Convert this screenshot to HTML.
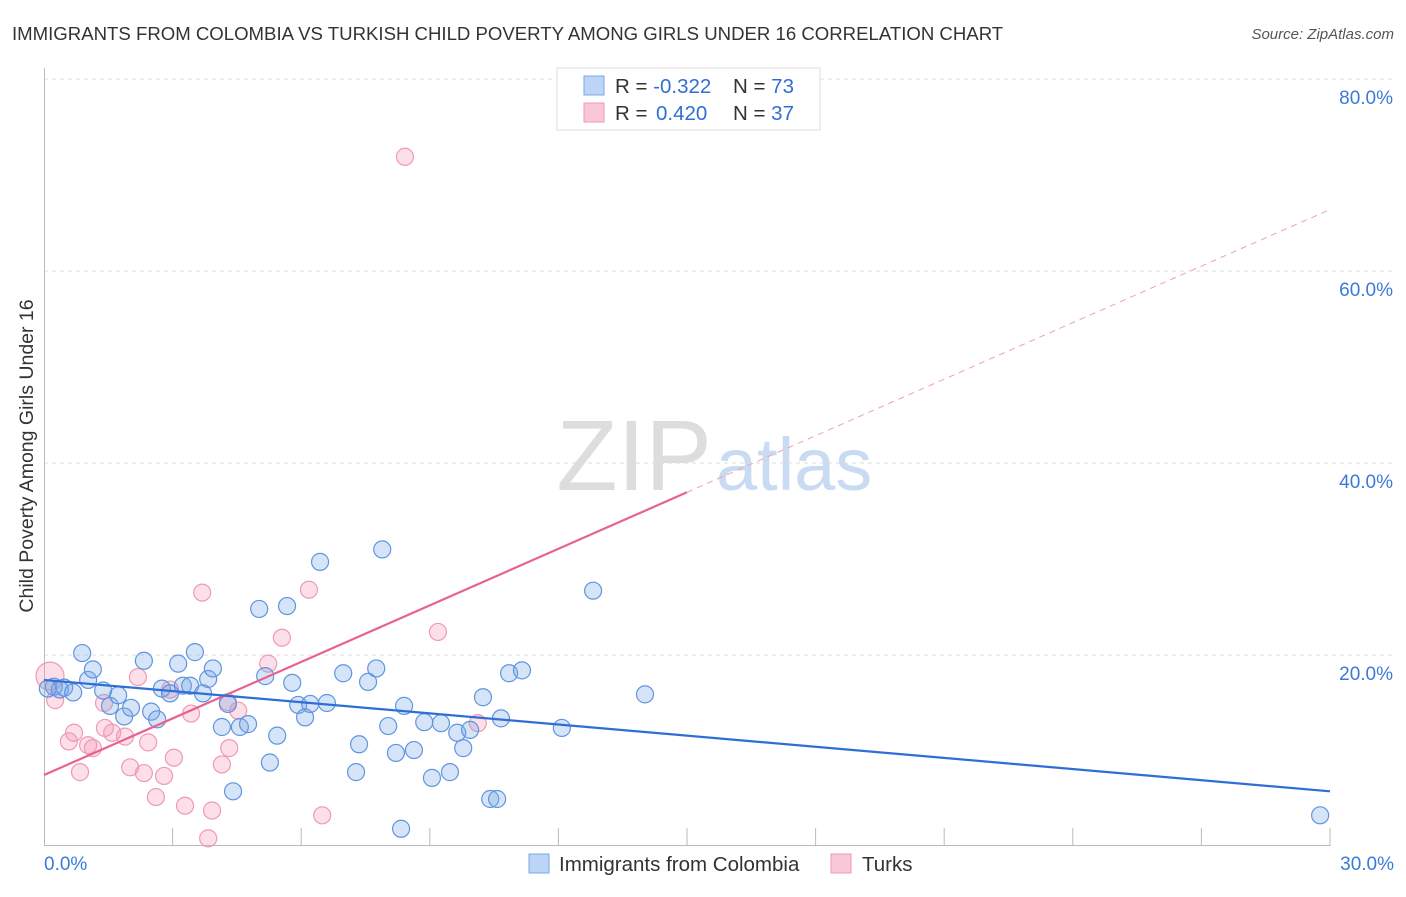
<!DOCTYPE html>
<html><head><meta charset="utf-8"><style>
body{margin:0;background:#fff;font-family:"Liberation Sans",sans-serif;}
svg text{font-family:"Liberation Sans",sans-serif;}
</style></head><body>
<svg id="c" width="1406" height="892" xmlns="http://www.w3.org/2000/svg">
<text x="12" y="40" font-size="18.6" fill="#333">IMMIGRANTS FROM COLOMBIA VS TURKISH CHILD POVERTY AMONG GIRLS UNDER 16 CORRELATION CHART</text>
<text x="1394" y="39" font-size="15" fill="#555" font-style="italic" text-anchor="end">Source: ZipAtlas.com</text>
<text x="712" y="490" font-size="100" fill="#ddd" text-anchor="end" font-family="Liberation Serif">ZIP</text>
<text x="716" y="490" font-size="74" fill="#c9dbf2">atlas</text>
<text transform="translate(33,456) rotate(-90)" font-size="19.5" fill="#333" text-anchor="middle">Child Poverty Among Girls Under 16</text>
<g id="grid"></g><g id="marks"></g><g id="lines"></g>
<g>
<rect x="557" y="68" width="263" height="62" fill="#fff" stroke="#ddd"/>
<rect x="584" y="76" width="20" height="19" fill="#bcd4f5" stroke="#7aa7e6"/>
<rect x="584" y="103" width="20" height="19" fill="#f9c7d6" stroke="#ef9ab4"/>
<text x="615" y="93" font-size="20.5" fill="#333">R = <tspan fill="#2f6fd4">-0.322</tspan><tspan x="733">N = </tspan><tspan fill="#2f6fd4">73</tspan></text>
<text x="615" y="120" font-size="20.5" fill="#333">R = <tspan x="656" fill="#2f6fd4">0.420</tspan><tspan x="733">N = </tspan><tspan fill="#2f6fd4">37</tspan></text>
</g>
<g>
<rect x="529" y="854" width="20" height="19" fill="#bcd4f5" stroke="#7aa7e6"/>
<text x="559" y="871" font-size="20.5" fill="#333">Immigrants from Colombia</text>
<rect x="831" y="854" width="20" height="19" fill="#f9c7d6" stroke="#ef9ab4"/>
<text x="862" y="871" font-size="20.5" fill="#333">Turks</text>
</g>
</svg>
<script>
const xTickValues=[0,3,6,9,12,15,18,21,24,27,30];
const yTickValues=[20,40,60,80];
const yTickLabels=["20.0%","40.0%","60.0%","80.0%"];
const xEndLabels=["0.0%","30.0%"];
const colombiaX=[0.23,0.47,0.37,0.68,0.89,1.03,1.14,1.38,1.54,1.73,1.87,2.03,2.33,2.50,2.64,2.75,2.94,3.13,3.24,3.41,3.52,3.71,3.83,3.94,4.15,4.29,4.41,4.57,4.76,5.02,5.16,5.27,5.44,5.67,5.79,5.93,6.09,6.21,6.44,6.60,6.98,7.35,7.28,7.56,7.75,7.89,8.03,8.21,8.33,8.40,8.63,8.87,9.05,9.26,9.47,9.64,9.78,9.94,10.24,10.41,10.57,10.66,10.85,11.15,12.08,12.81,14.02,29.77,0.09];
const colombiaY=[16.7,16.6,16.4,16.1,20.2,17.4,18.5,16.3,14.7,15.8,13.6,14.5,19.4,14.1,13.3,16.5,16.0,19.1,16.8,16.8,20.3,16.0,17.5,18.6,12.5,14.9,5.8,12.5,12.8,24.8,17.8,8.8,11.6,25.1,17.1,14.8,13.5,14.9,29.7,15.0,18.1,10.7,7.8,17.2,18.6,31.0,12.6,9.8,1.9,14.7,10.1,13.0,7.2,12.9,7.8,11.9,10.3,12.2,15.6,5.0,5.0,13.4,18.1,18.4,12.4,26.7,15.9,3.3,16.5];
const turksX=[0.14,0.26,0.58,0.70,0.84,1.03,1.14,1.40,1.42,1.59,1.89,2.01,2.19,2.33,2.43,2.61,2.80,2.94,3.03,3.29,3.43,3.69,3.92,3.83,4.15,4.29,4.32,4.53,5.23,5.55,6.18,6.49,8.42,9.19,10.12];
const turksY=[17.8,15.3,11.0,11.9,7.8,10.6,10.3,15.0,12.4,11.9,11.5,8.3,17.7,7.7,10.9,5.2,7.4,16.4,9.3,4.3,13.9,26.5,3.8,0.9,8.6,15.1,10.3,14.2,19.1,21.8,26.8,3.3,71.9,22.4,12.9];
const colombiaTrend=[17.4,5.8];
const turksTrend=[7.5,66.4];
const turksSolidEnd=15;
const NS="http://www.w3.org/2000/svg";
const X=v=>44+v/30*1286, Y=v=>847-v*9.6;
function mk(tag,attrs,parent){const e=document.createElementNS(NS,tag);for(const k in attrs)e.setAttribute(k,attrs[k]);parent.appendChild(e);return e;}
const grid=document.getElementById('grid'),marks=document.getElementById('marks'),lines=document.getElementById('lines');
yTickValues.forEach((v,i)=>{
 const l=mk('line',{x1:44,x2:1394,y1:Y(v),y2:Y(v),stroke:'#ddd','stroke-dasharray':'4,4'},grid);
 
 
 const t=mk('text',{x:1393,y:Y(v)+25,'font-size':19,fill:'#3b7ad8','text-anchor':'end'},grid);
 t.textContent=yTickLabels[i];
 
 
});
const ax=mk('line',{x1:44,x2:1330,y1:845.5,y2:845.5,stroke:'#bbb'},grid);


const ay=mk('line',{x1:44.5,x2:44.5,y1:68,y2:846,stroke:'#bbb'},grid);


xTickValues.forEach(v=>{if(v===0)return;
 const l=mk('line',{x1:X(v),x2:X(v),y1:828,y2:846,stroke:'#bbb'},grid);
 
 
});
[[0,'start',44],[30,'end',1394]].forEach((a,i)=>{
 const t=mk('text',{x:a[2],y:870,'font-size':19,fill:'#3b7ad8','text-anchor':a[1]},grid);
 t.textContent=xEndLabels[i];
 
 
});
turksX.forEach((v,i)=>{
 const c=mk('circle',{cx:X(v),cy:Y(turksY[i]),r:i===0?14:8.5,fill:'rgba(244,150,180,0.3)',stroke:'#ef9ab4','stroke-width':1.2},marks);
 
 
});
colombiaX.forEach((v,i)=>{
 const c=mk('circle',{cx:X(v),cy:Y(colombiaY[i]),r:8.5,fill:'rgba(120,165,230,0.3)',stroke:'#5f95e0','stroke-width':1.2},marks);
 
 
});
const tY=x=>turksTrend[0]+(turksTrend[1]-turksTrend[0])*x/30;
const l1=mk('line',{x1:X(0),y1:Y(tY(0)),x2:X(turksSolidEnd),y2:Y(tY(turksSolidEnd)),stroke:'#e8628e','stroke-width':2.2},lines);


const l2=mk('line',{x1:X(turksSolidEnd),y1:Y(tY(turksSolidEnd)),x2:X(30),y2:Y(tY(30)),stroke:'#eba0b8','stroke-width':1,'stroke-dasharray':'6,5'},lines);


const l3=mk('line',{x1:X(0),y1:Y(colombiaTrend[0]),x2:X(30),y2:Y(colombiaTrend[1]),stroke:'#2e6fd6','stroke-width':2.2},lines);


</script>
</body></html>
